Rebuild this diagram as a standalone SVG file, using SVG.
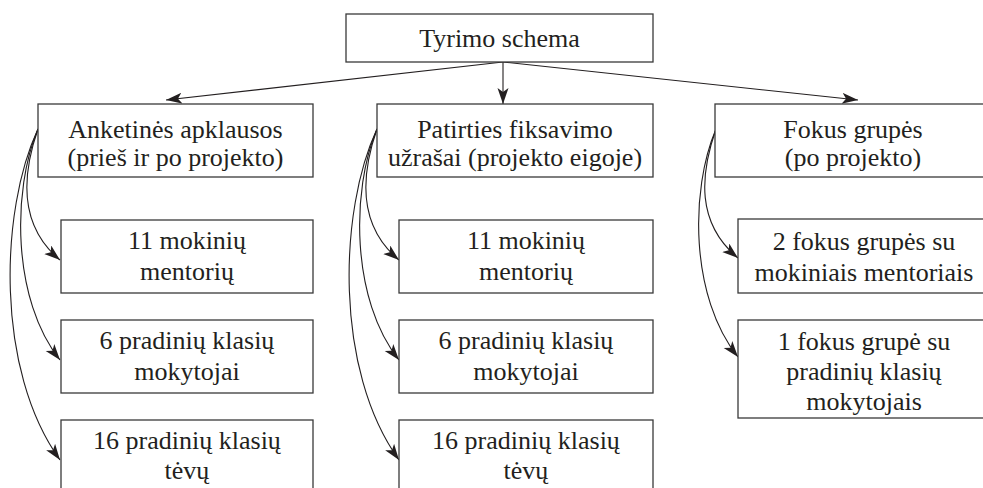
<svg xmlns="http://www.w3.org/2000/svg" width="983" height="488" viewBox="0 0 983 488" font-family="'Liberation Serif', 'Times New Roman', Times, serif">
<defs>
<style>
.box{fill:#fff;stroke:#3a3a3a;stroke-width:1.3}
.t{font-family:'Liberation Serif','Times New Roman',Times,serif;font-size:26px;fill:#231f20;text-anchor:middle}
.c{fill:none;stroke:#231f20;stroke-width:1.1}
</style>
<marker id="ah" markerUnits="userSpaceOnUse" markerWidth="18" markerHeight="12" refX="16" refY="5.5" orient="auto" viewBox="0 0 18 12">
<path d="M0,0 L16,5.5 L0,11 L4,5.5 z" fill="#231f20"/>
</marker>
</defs>
<rect width="983" height="488" fill="#fff"/>
<g id="connectors">
<path class="c" d="M503,62 L166,100" marker-end="url(#ah)"/>
<path class="c" d="M503,62 L503,104" marker-end="url(#ah)"/>
<path class="c" d="M503,62 L858,100" marker-end="url(#ah)"/>
<path class="c" d="M38,129 C22,175 18,225 60,260" marker-end="url(#ah)"/>
<path class="c" d="M38,129 C12,190 12,300 60,360" marker-end="url(#ah)"/>
<path class="c" d="M38,129 C0,210 -5,370 60,460" marker-end="url(#ah)"/>
<path class="c" d="M377,129 C361,175 357,225 399,260" marker-end="url(#ah)"/>
<path class="c" d="M377,129 C351,190 351,300 399,360" marker-end="url(#ah)"/>
<path class="c" d="M377,129 C339,210 334,370 399,460" marker-end="url(#ah)"/>
<path class="c" d="M716,129 C700,175 696,223 738,258" marker-end="url(#ah)"/>
<path class="c" d="M716,129 C690,190 690,297 738,357" marker-end="url(#ah)"/>
</g>
<g id="root"><rect class="box" x="346" y="14" width="307" height="48"/><text class="t" x="499.5" y="47">Tyrimo schema</text></g>
<g id="anketines"><rect class="box" x="38" y="104" width="275" height="73"/><text class="t" x="175.5" y="138">Anketinės apklausos</text><text class="t" x="175.5" y="166">(prieš ir po projekto)</text></g>
<g id="patirties"><rect class="box" x="377" y="104" width="276" height="73"/><text class="t" x="515" y="138">Patirties fiksavimo</text><text class="t" x="515" y="166">užrašai (projekto eigoje)</text></g>
<g id="fokus"><rect class="box" x="715" y="104" width="276" height="73"/><text class="t" x="853" y="138">Fokus grupės</text><text class="t" x="853" y="166">(po projekto)</text></g>
<g id="a1"><rect class="box" x="61" y="220" width="252" height="73"/><text class="t" x="187" y="249">11 mokinių</text><text class="t" x="187" y="280">mentorių</text></g>
<g id="a2"><rect class="box" x="61" y="320" width="252" height="73"/><text class="t" x="187" y="349">6 pradinių klasių</text><text class="t" x="187" y="380">mokytojai</text></g>
<g id="a3"><rect class="box" x="61" y="420" width="252" height="80"/><text class="t" x="187" y="449">16 pradinių klasių</text><text class="t" x="187" y="479">tėvų</text></g>
<g id="p1"><rect class="box" x="399" y="220" width="254" height="73"/><text class="t" x="526" y="249">11 mokinių</text><text class="t" x="526" y="280">mentorių</text></g>
<g id="p2"><rect class="box" x="399" y="320" width="254" height="73"/><text class="t" x="526" y="349">6 pradinių klasių</text><text class="t" x="526" y="380">mokytojai</text></g>
<g id="p3"><rect class="box" x="399" y="420" width="254" height="80"/><text class="t" x="526" y="449">16 pradinių klasių</text><text class="t" x="526" y="479">tėvų</text></g>
<g id="f1"><rect class="box" x="738" y="219" width="252" height="74"/><text class="t" x="864" y="250">2 fokus grupės su</text><text class="t" x="864" y="281">mokiniais mentoriais</text></g>
<g id="f2"><rect class="box" x="738" y="320" width="252" height="98"/><text class="t" x="864" y="350">1 fokus grupė su</text><text class="t" x="864" y="380">pradinių klasių</text><text class="t" x="864" y="410">mokytojais</text></g>
</svg>
